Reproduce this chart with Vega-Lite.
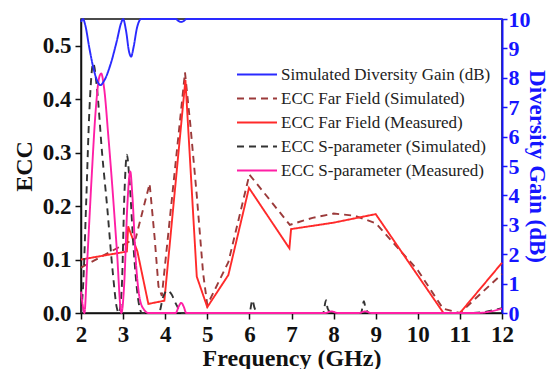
{
  "$schema": "https://vega.github.io/schema/vega-lite/v6.json",
  "width": 421,
  "height": 294,
  "autosize": {"type": "none"},
  "padding": {"left": 81, "top": 19, "right": 52, "bottom": 56},
  "background": "white",
  "config": {"view": {"stroke": "#111", "strokeWidth": 1.5}, "font": "Liberation Serif"},
  "datasets": {
    "ff": [
      {"f": 2.0, "v": 0.085, "s": "ECC Far Field (Simulated)"},
      {"f": 3.3, "v": 0.14, "s": "ECC Far Field (Simulated)"},
      {"f": 3.63, "v": 0.242, "s": "ECC Far Field (Simulated)"},
      {"f": 3.75, "v": 0.14, "s": "ECC Far Field (Simulated)"},
      {"f": 3.84, "v": 0.05, "s": "ECC Far Field (Simulated)"},
      {"f": 3.92, "v": 0.032, "s": "ECC Far Field (Simulated)"},
      {"f": 4.47, "v": 0.45, "s": "ECC Far Field (Simulated)"},
      {"f": 4.6, "v": 0.35, "s": "ECC Far Field (Simulated)"},
      {"f": 4.75, "v": 0.22, "s": "ECC Far Field (Simulated)"},
      {"f": 4.9, "v": 0.075, "s": "ECC Far Field (Simulated)"},
      {"f": 5.0, "v": 0.015, "s": "ECC Far Field (Simulated)"},
      {"f": 5.5, "v": 0.095, "s": "ECC Far Field (Simulated)"},
      {"f": 6.0, "v": 0.259, "s": "ECC Far Field (Simulated)"},
      {"f": 6.96, "v": 0.165, "s": "ECC Far Field (Simulated)"},
      {"f": 7.5, "v": 0.178, "s": "ECC Far Field (Simulated)"},
      {"f": 8.0, "v": 0.186, "s": "ECC Far Field (Simulated)"},
      {"f": 8.5, "v": 0.182, "s": "ECC Far Field (Simulated)"},
      {"f": 9.0, "v": 0.168, "s": "ECC Far Field (Simulated)"},
      {"f": 10.0, "v": 0.08, "s": "ECC Far Field (Simulated)"},
      {"f": 10.6, "v": 0.008, "s": "ECC Far Field (Simulated)"},
      {"f": 11.0, "v": 0.0, "s": "ECC Far Field (Simulated)"},
      {"f": 12.0, "v": 0.073, "s": "ECC Far Field (Simulated)"},
      {"f": 2.0, "v": 0.1, "s": "ECC Far Field (Measured)"},
      {"f": 3.09, "v": 0.115, "s": "ECC Far Field (Measured)"},
      {"f": 3.12, "v": 0.162, "s": "ECC Far Field (Measured)"},
      {"f": 3.34, "v": 0.115, "s": "ECC Far Field (Measured)"},
      {"f": 3.6, "v": 0.017, "s": "ECC Far Field (Measured)"},
      {"f": 3.98, "v": 0.023, "s": "ECC Far Field (Measured)"},
      {"f": 4.48, "v": 0.436, "s": "ECC Far Field (Measured)"},
      {"f": 4.75, "v": 0.068, "s": "ECC Far Field (Measured)"},
      {"f": 5.0, "v": 0.011, "s": "ECC Far Field (Measured)"},
      {"f": 5.5, "v": 0.071, "s": "ECC Far Field (Measured)"},
      {"f": 5.99, "v": 0.234, "s": "ECC Far Field (Measured)"},
      {"f": 6.95, "v": 0.121, "s": "ECC Far Field (Measured)"},
      {"f": 6.99, "v": 0.157, "s": "ECC Far Field (Measured)"},
      {"f": 8.0, "v": 0.169, "s": "ECC Far Field (Measured)"},
      {"f": 9.0, "v": 0.185, "s": "ECC Far Field (Measured)"},
      {"f": 10.61, "v": 0.0, "s": "ECC Far Field (Measured)"},
      {"f": 11.0, "v": 0.0, "s": "ECC Far Field (Measured)"},
      {"f": 12.0, "v": 0.094, "s": "ECC Far Field (Measured)"}
    ],
    "sp": [
      {"f": 2.0, "v": 0.0, "s": "ECC S-parameter (Simulated)"},
      {"f": 2.05, "v": 0.05, "s": "ECC S-parameter (Simulated)"},
      {"f": 2.12, "v": 0.2, "s": "ECC S-parameter (Simulated)"},
      {"f": 2.2, "v": 0.38, "s": "ECC S-parameter (Simulated)"},
      {"f": 2.29, "v": 0.467, "s": "ECC S-parameter (Simulated)"},
      {"f": 2.38, "v": 0.42, "s": "ECC S-parameter (Simulated)"},
      {"f": 2.5, "v": 0.3, "s": "ECC S-parameter (Simulated)"},
      {"f": 2.62, "v": 0.2, "s": "ECC S-parameter (Simulated)"},
      {"f": 2.75, "v": 0.08, "s": "ECC S-parameter (Simulated)"},
      {"f": 2.85, "v": 0.01, "s": "ECC S-parameter (Simulated)"},
      {"f": 2.9, "v": 0.0, "s": "ECC S-parameter (Simulated)"},
      {"f": 2.97, "v": 0.05, "s": "ECC S-parameter (Simulated)"},
      {"f": 3.03, "v": 0.22, "s": "ECC S-parameter (Simulated)"},
      {"f": 3.09, "v": 0.296, "s": "ECC S-parameter (Simulated)"},
      {"f": 3.15, "v": 0.25, "s": "ECC S-parameter (Simulated)"},
      {"f": 3.25, "v": 0.12, "s": "ECC S-parameter (Simulated)"},
      {"f": 3.35, "v": 0.03, "s": "ECC S-parameter (Simulated)"},
      {"f": 3.45, "v": 0.0, "s": "ECC S-parameter (Simulated)"},
      {"f": 3.85, "v": 0.0, "s": "ECC S-parameter (Simulated)"},
      {"f": 3.95, "v": 0.03, "s": "ECC S-parameter (Simulated)"},
      {"f": 4.05, "v": 0.042, "s": "ECC S-parameter (Simulated)"},
      {"f": 4.15, "v": 0.035, "s": "ECC S-parameter (Simulated)"},
      {"f": 4.25, "v": 0.018, "s": "ECC S-parameter (Simulated)"},
      {"f": 4.4, "v": 0.0, "s": "ECC S-parameter (Simulated)"},
      {"f": 6.0, "v": 0.0, "s": "ECC S-parameter (Simulated)"},
      {"f": 6.07, "v": 0.024, "s": "ECC S-parameter (Simulated)"},
      {"f": 6.12, "v": 0.01, "s": "ECC S-parameter (Simulated)"},
      {"f": 6.2, "v": 0.0, "s": "ECC S-parameter (Simulated)"},
      {"f": 7.75, "v": 0.0, "s": "ECC S-parameter (Simulated)"},
      {"f": 7.82, "v": 0.024, "s": "ECC S-parameter (Simulated)"},
      {"f": 7.86, "v": 0.008, "s": "ECC S-parameter (Simulated)"},
      {"f": 7.95, "v": 0.0, "s": "ECC S-parameter (Simulated)"},
      {"f": 8.65, "v": 0.0, "s": "ECC S-parameter (Simulated)"},
      {"f": 8.72, "v": 0.022, "s": "ECC S-parameter (Simulated)"},
      {"f": 8.76, "v": 0.008, "s": "ECC S-parameter (Simulated)"},
      {"f": 8.85, "v": 0.0, "s": "ECC S-parameter (Simulated)"},
      {"f": 11.3, "v": 0.0, "s": "ECC S-parameter (Simulated)"},
      {"f": 12.0, "v": 0.009, "s": "ECC S-parameter (Simulated)"},
      {"f": 2.0, "v": 0.04, "s": "ECC S-parameter (Measured)"},
      {"f": 2.04, "v": 0.015, "s": "ECC S-parameter (Measured)"},
      {"f": 2.08, "v": 0.0, "s": "ECC S-parameter (Measured)"},
      {"f": 2.15, "v": 0.1, "s": "ECC S-parameter (Measured)"},
      {"f": 2.25, "v": 0.25, "s": "ECC S-parameter (Measured)"},
      {"f": 2.35, "v": 0.38, "s": "ECC S-parameter (Measured)"},
      {"f": 2.43, "v": 0.44, "s": "ECC S-parameter (Measured)"},
      {"f": 2.48, "v": 0.448, "s": "ECC S-parameter (Measured)"},
      {"f": 2.55, "v": 0.42, "s": "ECC S-parameter (Measured)"},
      {"f": 2.65, "v": 0.33, "s": "ECC S-parameter (Measured)"},
      {"f": 2.75, "v": 0.23, "s": "ECC S-parameter (Measured)"},
      {"f": 2.85, "v": 0.12, "s": "ECC S-parameter (Measured)"},
      {"f": 2.96, "v": 0.0, "s": "ECC S-parameter (Measured)"},
      {"f": 3.03, "v": 0.06, "s": "ECC S-parameter (Measured)"},
      {"f": 3.1, "v": 0.2, "s": "ECC S-parameter (Measured)"},
      {"f": 3.17, "v": 0.265, "s": "ECC S-parameter (Measured)"},
      {"f": 3.22, "v": 0.22, "s": "ECC S-parameter (Measured)"},
      {"f": 3.3, "v": 0.1, "s": "ECC S-parameter (Measured)"},
      {"f": 3.4, "v": 0.025, "s": "ECC S-parameter (Measured)"},
      {"f": 3.5, "v": 0.006, "s": "ECC S-parameter (Measured)"},
      {"f": 3.6, "v": 0.0, "s": "ECC S-parameter (Measured)"},
      {"f": 4.25, "v": 0.0, "s": "ECC S-parameter (Measured)"},
      {"f": 4.32, "v": 0.012, "s": "ECC S-parameter (Measured)"},
      {"f": 4.38, "v": 0.019, "s": "ECC S-parameter (Measured)"},
      {"f": 4.44, "v": 0.012, "s": "ECC S-parameter (Measured)"},
      {"f": 4.5, "v": 0.0, "s": "ECC S-parameter (Measured)"},
      {"f": 7.8, "v": 0.0, "s": "ECC S-parameter (Measured)"},
      {"f": 7.95, "v": 0.003, "s": "ECC S-parameter (Measured)"},
      {"f": 8.1, "v": 0.0, "s": "ECC S-parameter (Measured)"},
      {"f": 8.6, "v": 0.0, "s": "ECC S-parameter (Measured)"},
      {"f": 8.75, "v": 0.003, "s": "ECC S-parameter (Measured)"},
      {"f": 8.9, "v": 0.0, "s": "ECC S-parameter (Measured)"},
      {"f": 11.4, "v": 0.0, "s": "ECC S-parameter (Measured)"},
      {"f": 12.0, "v": 0.008, "s": "ECC S-parameter (Measured)"}
    ],
    "gain": [
      {"f": 2.0, "g": 9.9, "s": "Simulated Diversity Gain (dB)"},
      {"f": 2.05, "g": 10, "s": "Simulated Diversity Gain (dB)"},
      {"f": 2.1, "g": 9.8, "s": "Simulated Diversity Gain (dB)"},
      {"f": 2.2, "g": 9.0, "s": "Simulated Diversity Gain (dB)"},
      {"f": 2.3, "g": 8.3, "s": "Simulated Diversity Gain (dB)"},
      {"f": 2.4, "g": 7.85, "s": "Simulated Diversity Gain (dB)"},
      {"f": 2.46, "g": 7.75, "s": "Simulated Diversity Gain (dB)"},
      {"f": 2.55, "g": 7.9, "s": "Simulated Diversity Gain (dB)"},
      {"f": 2.7, "g": 8.45, "s": "Simulated Diversity Gain (dB)"},
      {"f": 2.85, "g": 9.25, "s": "Simulated Diversity Gain (dB)"},
      {"f": 2.95, "g": 9.85, "s": "Simulated Diversity Gain (dB)"},
      {"f": 3.0, "g": 10, "s": "Simulated Diversity Gain (dB)"},
      {"f": 3.07, "g": 9.6, "s": "Simulated Diversity Gain (dB)"},
      {"f": 3.14, "g": 8.9, "s": "Simulated Diversity Gain (dB)"},
      {"f": 3.19, "g": 8.72, "s": "Simulated Diversity Gain (dB)"},
      {"f": 3.25, "g": 9.05, "s": "Simulated Diversity Gain (dB)"},
      {"f": 3.33, "g": 9.7, "s": "Simulated Diversity Gain (dB)"},
      {"f": 3.43, "g": 10, "s": "Simulated Diversity Gain (dB)"},
      {"f": 4.25, "g": 10, "s": "Simulated Diversity Gain (dB)"},
      {"f": 4.32, "g": 9.93, "s": "Simulated Diversity Gain (dB)"},
      {"f": 4.38, "g": 9.9, "s": "Simulated Diversity Gain (dB)"},
      {"f": 4.45, "g": 9.94, "s": "Simulated Diversity Gain (dB)"},
      {"f": 4.5, "g": 10, "s": "Simulated Diversity Gain (dB)"},
      {"f": 12.0, "g": 10, "s": "Simulated Diversity Gain (dB)"}
    ]
  },
  "layer": [
    {
      "layer": [
        {
          "data": {"name": "ff"},
          "mark": {"type": "line", "strokeWidth": 1.9},
          "encoding": {
            "x": {"field": "f", "type": "quantitative", "scale": {"domain": [2, 12], "nice": false},
              "axis": {"values": [2, 3, 4, 5, 6, 7, 8, 9, 10, 11, 12], "title": "Frequency (GHz)", "titleFont": "Liberation Serif", "titleFontSize": 24, "titleFontWeight": "bold", "titleColor": "#111", "labelFont": "Liberation Serif", "labelFontSize": 23, "labelFontWeight": "bold", "labelColor": "#111", "tickSize": 6, "tickWidth": 1.5, "tickColor": "#111", "domainColor": "#111", "domainWidth": 1.5, "labelPadding": 4, "titlePadding": 0, "grid": false, "labelFlush": false, "labelOverlap": false}},
            "y": {"field": "v", "type": "quantitative", "scale": {"domain": [0, 0.55], "nice": false, "zero": false},
              "axis": {"values": [0, 0.1, 0.2, 0.3, 0.4, 0.5], "format": ".1f", "title": "ECC", "titleFont": "Liberation Serif", "titleFontSize": 24, "titleFontWeight": "bold", "titleColor": "#111", "labelFont": "Liberation Serif", "labelFontSize": 23, "labelFontWeight": "bold", "labelColor": "#111", "tickSize": 6, "tickWidth": 1.5, "tickColor": "#111", "domainColor": "#111", "domainWidth": 1.5, "labelPadding": 4, "titlePadding": 6, "grid": false}},
            "color": {"field": "s", "type": "nominal",
              "scale": {"domain": ["Simulated Diversity Gain (dB)", "ECC Far Field (Simulated)", "ECC Far Field (Measured)", "ECC S-parameter (Simulated)", "ECC S-parameter (Measured)"], "range": ["#2a2aff", "#9b3a3a", "#ff2a2a", "#333333", "#ff1fa5"]},
              "legend": {"orient": "none", "legendX": 155, "legendY": 47, "title": null, "symbolType": "stroke", "symbolSize": 1600, "symbolStrokeWidth": 2, "labelFont": "Liberation Serif", "labelFontSize": 17, "labelColor": "#222", "labelLimit": 400, "clipHeight": 17, "rowPadding": 6, "labelOffset": 3}},
            "strokeDash": {"field": "s", "type": "nominal",
              "scale": {"domain": ["Simulated Diversity Gain (dB)", "ECC Far Field (Simulated)", "ECC Far Field (Measured)", "ECC S-parameter (Simulated)", "ECC S-parameter (Measured)"], "range": [[1, 0], [7, 5], [1, 0], [7, 5], [1, 0]]},
              "legend": {"orient": "none", "legendX": 155, "legendY": 47, "title": null, "symbolType": "stroke", "symbolSize": 1600, "symbolStrokeWidth": 2, "labelFont": "Liberation Serif", "labelFontSize": 17, "labelColor": "#222", "labelLimit": 400, "clipHeight": 17, "rowPadding": 6, "labelOffset": 3}}
          }
        },
        {
          "data": {"name": "sp"},
          "mark": {"type": "line", "interpolate": "monotone", "strokeWidth": 1.9},
          "encoding": {
            "x": {"field": "f", "type": "quantitative"},
            "y": {"field": "v", "type": "quantitative"},
            "color": {"field": "s", "type": "nominal"},
            "strokeDash": {"field": "s", "type": "nominal"}
          }
        }
      ]
    },
    {
      "data": {"name": "gain"},
      "mark": {"type": "line", "interpolate": "monotone", "strokeWidth": 1.9},
      "encoding": {
        "x": {"field": "f", "type": "quantitative"},
        "y": {"field": "g", "type": "quantitative", "scale": {"domain": [0, 10], "nice": false, "zero": false},
          "axis": {"orient": "right", "values": [0, 1, 2, 3, 4, 5, 6, 7, 8, 9, 10], "format": "d", "title": "Diversity Gain (dB)", "titleAngle": 90, "titleFont": "Liberation Serif", "titleFontSize": 23, "titleFontWeight": "bold", "titleColor": "#1515ff", "labelFont": "Liberation Serif", "labelFontSize": 22, "labelFontWeight": "bold", "labelColor": "#1515ff", "tickSize": 5, "tickWidth": 1.5, "tickColor": "#1515ff", "domainColor": "#1515ff", "domainWidth": 2, "labelPadding": 1, "titlePadding": -6, "grid": false}},
        "color": {"field": "s", "type": "nominal"},
        "strokeDash": {"field": "s", "type": "nominal"}
      }
    }
  ],
  "resolve": {"scale": {"y": "independent"}}
}
